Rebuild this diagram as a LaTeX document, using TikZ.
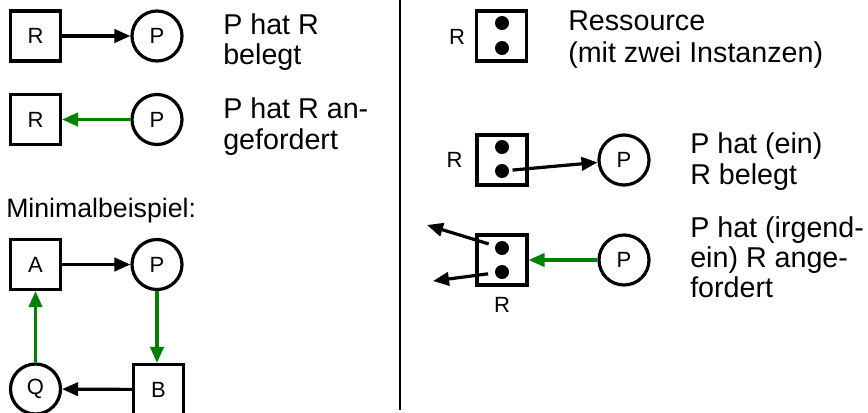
\documentclass[tikz,border=0pt]{standalone}
\usepackage{fontspec}
\setmainfont{Liberation Sans}
\usetikzlibrary{arrows.meta}
\definecolor{rgreen}{RGB}{0,128,0}
\begin{document}
\begin{tikzpicture}[x=0.75pt,y=-0.75pt,
  lbl/.style={font=\fontsize{16.5pt}{19pt}\selectfont},
  txt/.style={font=\fontsize{21.5pt}{23pt}\selectfont,anchor=base west,inner sep=0pt},
  res/.style={draw,line width=2.4pt,rectangle,minimum size=37.5pt,inner sep=0pt,lbl},
  proc/.style={draw,line width=2.4pt,circle,minimum size=37.5pt,inner sep=0pt,lbl},
  dot/.style={circle,fill=black,minimum size=10.5pt,inner sep=0pt},
  plainlbl/.style={lbl,inner sep=0pt},
  arr/.style={line width=2.4pt,-{Triangle[length=12pt,width=10pt]}},
  hold/.style={arr,black},
  req/.style={arr,rgreen}]
\useasboundingbox (0,0) rectangle (868,412);
% divider
\draw[line width=1.6pt] (400,0) coordinate (vtop) -- (400,410) coordinate (vbot);
% left top
\node[res] (r1) at (35.5,36) {R};
\node[proc] (p1) at (157,36) {P};
\draw[hold] (r1) -- (p1);
\node[txt] (t1) at (223,34) {P hat R};
\node[txt] (t2) at (223,64) {belegt};
\node[res] (r2) at (35.5,119.5) {R};
\node[proc] (p2) at (157,119.5) {P};
\draw[req] (p2) -- (r2);
\node[txt] (t3) at (223,118) {P hat R an-};
\node[txt] (t4) at (223,149) {gefordert};
% minimal example
\node[txt,font=\fontsize{20pt}{23pt}\selectfont] (t5) at (6,217) {Minimalbeispiel:};
\node[res] (a) at (35.5,264.5) {A};
\node[proc] (p3) at (157,264.5) {P};
\node[res] (b) at (158.5,389.5) {B};
\node[proc] (q) at (35.5,389) {Q};
\draw[hold] (a) -- (p3);
\draw[req] (p3) -- (p3|-b.north);
\draw[hold] (b) -- (q);
\draw[req] (q) -- (a);
% right top
\node[res] (rr) at (501.5,36) {};
\node[dot] (rr1) at (502,23) {};
\node[dot] (rr2) at (502,48) {};
\node[plainlbl] (rrl) at (457,37) {R};
\node[txt] (t6) at (568,30) {Ressource};
\node[txt] (t7) at (568,62) {(mit zwei Instanzen)};
% right middle
\node[res] (rm) at (502,160) {};
\node[dot] (rm1) at (502,147) {};
\node[dot] (rm2) at (502,171) {};
\node[plainlbl] (rml) at (454.5,160) {R};
\node[proc] (p4) at (624,160) {P};
\draw[hold,shorten <=2.5pt] (rm2) -- (p4);
\node[txt] (t8) at (690,153) {P hat (ein)};
\node[txt] (t9) at (690,184) {R belegt};
% right bottom
\node[res] (rb) at (502,260) {};
\node[dot] (rb1) at (502,248) {};
\node[dot] (rb2) at (502,272) {};
\node[plainlbl] (rbl) at (502,305) {R};
\node[proc] (p5) at (624,260) {P};
\draw[req] (p5) -- (rb);
\coordinate (o1) at (427,225);
\coordinate (o2) at (433,281);
\draw[hold,shorten <=5pt] (rb1) -- (o1);
\draw[hold,shorten <=5pt] (rb2) -- (o2);
\node[txt] (t10) at (690,237) {P hat (irgend-};
\node[txt] (t11) at (690,267) {ein) R ange-};
\node[txt] (t12) at (690,297) {fordert};
\end{tikzpicture}
\end{document}
